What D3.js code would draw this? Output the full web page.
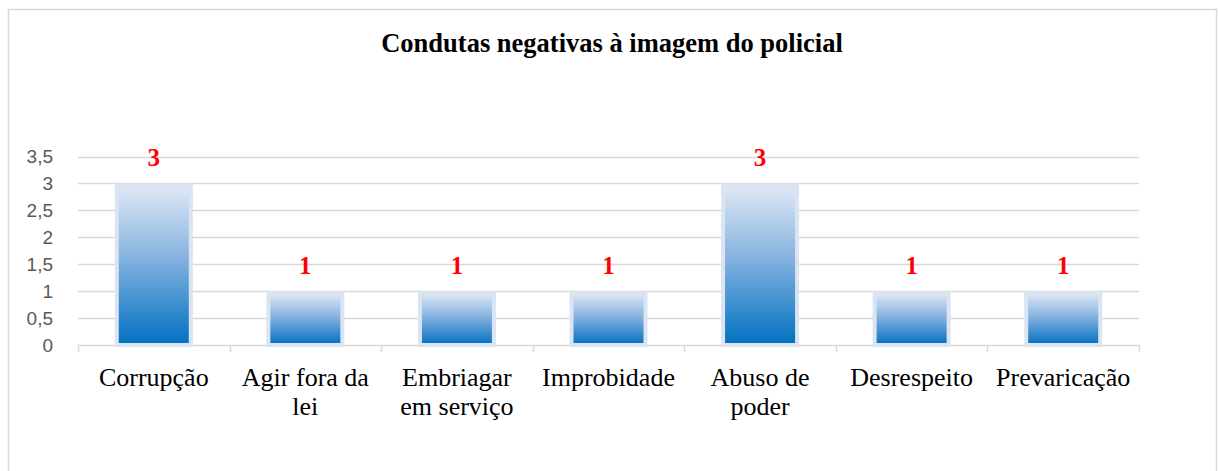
<!DOCTYPE html>
<html>
<head>
<meta charset="utf-8">
<script src="https://cdn.jsdelivr.net/npm/d3@7"></script>
<style>
  html, body { margin: 0; padding: 0; background: #fff; }
  svg { display: block; }
</style>
</head>
<body>
<svg id="chart" width="1218" height="471"></svg>
<script>
const title = "Condutas negativas à imagem do policial";
const categories = ["Corrupção", "Agir fora da lei", "Embriagar em serviço", "Improbidade", "Abuso de poder", "Desrespeito", "Prevaricação"];
const values = [3, 1, 1, 1, 3, 1, 1];
const yTicks = [0, 0.5, 1, 1.5, 2, 2.5, 3, 3.5];
const yTickLabels = ["0", "0,5", "1", "1,5", "2", "2,5", "3", "3,5"];

const W = 1218, H = 471;
const plot = { left: 78, right: 1139, top: 156.5, bottom: 345 };

const svg = d3.select("#chart");

// chart frame
svg.append("rect")
  .attr("x", 8.5).attr("y", 9.5)
  .attr("width", 1208).attr("height", 470)
  .attr("fill", "#fff").attr("stroke", "#d9d9d9").attr("stroke-width", 1.5);

// gradient
const defs = svg.append("defs");
const grad = defs.append("linearGradient").attr("id", "barGrad")
  .attr("x1", 0).attr("y1", 0).attr("x2", 0).attr("y2", 1);
grad.append("stop").attr("offset", "0%").attr("stop-color", "#dfe8f5");
grad.append("stop").attr("offset", "45%").attr("stop-color", "#86b3e0");
grad.append("stop").attr("offset", "100%").attr("stop-color", "#0070c0");

const x = d3.scaleBand().domain(categories).range([plot.left, plot.right]).paddingInner(0).paddingOuter(0);
const y = d3.scaleLinear().domain([0, 3.5]).range([plot.bottom, plot.top]);

// title
svg.append("text")
  .attr("x", 612).attr("y", 52)
  .attr("text-anchor", "middle")
  .attr("font-family", "'Liberation Serif', 'Times New Roman', serif")
  .attr("font-weight", "bold")
  .attr("font-size", 26.5)
  .attr("fill", "#000")
  .text(title);

// gridlines
svg.append("g").selectAll("line").data(yTicks.filter(d => d > 0)).join("line")
  .attr("x1", plot.left).attr("x2", plot.right)
  .attr("y1", d => Math.round(y(d)) + 0.5).attr("y2", d => Math.round(y(d)) + 0.5)
  .attr("stroke", "#d9d9d9").attr("stroke-width", 1.5);

// y labels
svg.append("g").selectAll("text").data(yTicks).join("text")
  .attr("x", 53).attr("y", d => y(d))
  .attr("dy", "0.36em")
  .attr("text-anchor", "end")
  .attr("font-family", "'Liberation Sans', Arial, sans-serif")
  .attr("font-size", 19)
  .attr("fill", "#595959")
  .text((d, i) => yTickLabels[i]);

// x axis line and ticks
const bounds = categories.map(c => x(c)).concat([plot.right]);
svg.append("line")
  .attr("x1", plot.left).attr("x2", plot.right)
  .attr("y1", plot.bottom + 0.5).attr("y2", plot.bottom + 0.5)
  .attr("stroke", "#d9d9d9").attr("stroke-width", 1.5);
svg.append("g").selectAll("line").data(bounds).join("line")
  .attr("x1", d => Math.round(d) + 0.5).attr("x2", d => Math.round(d) + 0.5)
  .attr("y1", plot.bottom).attr("y2", plot.bottom + 7)
  .attr("stroke", "#d9d9d9").attr("stroke-width", 1.5);

// bars
const barW = 74;
svg.append("g").selectAll("rect").data(values).join("rect")
  .attr("x", (d, i) => x(categories[i]) + x.bandwidth() / 2 - barW / 2)
  .attr("y", d => y(d) + 2)
  .attr("width", barW)
  .attr("height", d => y(0) - y(d) - 2)
  .attr("fill", "url(#barGrad)")
  .attr("stroke", "#dbe4f1")
  .attr("stroke-width", 4);

// value labels
svg.append("g").selectAll("text").data(values).join("text")
  .attr("x", (d, i) => x(categories[i]) + x.bandwidth() / 2)
  .attr("y", d => y(d) - 17)
  .attr("text-anchor", "middle")
  .attr("font-family", "'Liberation Serif', 'Times New Roman', serif")
  .attr("font-weight", "bold")
  .attr("font-size", 25)
  .attr("fill", "#ff0000")
  .text(d => d);

// category labels (wrapped)
const catG = svg.append("g")
  .attr("font-family", "'Liberation Serif', 'Times New Roman', serif")
  .attr("font-size", 26)
  .attr("fill", "#000");
categories.forEach(c => {
  const t = catG.append("text")
    .attr("x", x(c) + x.bandwidth() / 2)
    .attr("y", 386)
    .attr("text-anchor", "middle");
  const words = c.split(" ");
  let lines = [], cur = [];
  const probe = catG.append("text").attr("visibility", "hidden");
  words.forEach(w => {
    const test = cur.concat([w]).join(" ");
    probe.text(test);
    if (cur.length && probe.node().getComputedTextLength() > 145) {
      lines.push(cur.join(" "));
      cur = [w];
    } else cur.push(w);
  });
  lines.push(cur.join(" "));
  probe.remove();
  lines.forEach((ln, i) => {
    t.append("tspan").attr("x", x(c) + x.bandwidth() / 2).attr("y", 386 + i * 29).text(ln);
  });
});
</script>
</body>
</html>
